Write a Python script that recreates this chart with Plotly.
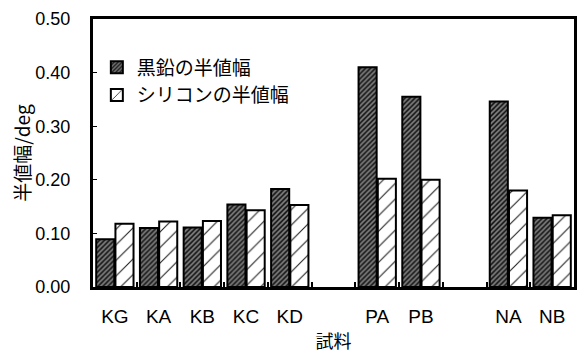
import plotly.graph_objects as go

# Samples and half-width values (deg)
samples = ["KG", "KA", "KB", "KC", "KD", "PA", "PB", "NA", "NB"]
graphite_fwhm = [0.089, 0.110, 0.111, 0.154, 0.183, 0.410, 0.355, 0.346, 0.129]
silicon_fwhm = [0.118, 0.122, 0.123, 0.143, 0.153, 0.202, 0.200, 0.180, 0.134]
series_names = ["黒鉛の半値幅", "シリコンの半値幅"]
y_ticks = [0.0, 0.1, 0.2, 0.3, 0.4, 0.5]

# blank slots separate the K, P and N sample groups
order = samples[:5] + [" "] + samples[5:7] + ["  "] + samples[7:]

FONT = "Liberation Sans, Arial, Noto Sans CJK JP"

fig = go.Figure()
fig.add_trace(go.Bar(
    x=samples, y=graphite_fwhm, name=series_names[0],
    marker=dict(
        color="#6a6a6a",
        line=dict(color="black", width=2),
        pattern=dict(shape="/", bgcolor="#7c7c7c", fgcolor="#111111",
                     size=3.5, solidity=0.45, fillmode="replace"),
    ),
))
fig.add_trace(go.Bar(
    x=samples, y=silicon_fwhm, name=series_names[1],
    marker=dict(
        color="white",
        line=dict(color="black", width=2),
        pattern=dict(shape="/", bgcolor="white", fgcolor="#222222",
                     size=11, solidity=0.1, fillmode="replace"),
    ),
))

fig.update_layout(
    width=578, height=354,
    margin=dict(l=93, r=1, t=19, b=67),
    paper_bgcolor="white", plot_bgcolor="white",
    barmode="group", bargap=0.12, bargroupgap=0.06,
    font=dict(family=FONT, size=18, color="black"),
    showlegend=True,
    legend=dict(
        x=0.008, y=0.89, xanchor="left", yanchor="top",
        bgcolor="rgba(0,0,0,0)", borderwidth=0,
        font=dict(family="Noto Sans CJK JP", size=19, color="black"),
        tracegroupgap=0, itemwidth=30,
    ),
)

fig.update_xaxes(
    type="category", categoryorder="array", categoryarray=order,
    range=[-0.5, len(order) - 0.5],
    showline=True, linecolor="black", linewidth=3, mirror=True,
    tickson="boundaries", ticks="inside", ticklen=5, tickwidth=2, tickcolor="black",
    tickfont=dict(family=FONT, size=19),
    ticklabelstandoff=10,
    showgrid=False,
    title=dict(text="試料", font=dict(family="Noto Sans CJK JP", size=18), standoff=4),
)

fig.update_yaxes(
    range=[0, 0.5], tickvals=y_ticks, tickformat=".2f",
    showline=True, linecolor="black", linewidth=3, mirror=True,
    ticks="inside", ticklen=4, tickwidth=1, tickcolor="black",
    tickfont=dict(family=FONT, size=18),
    ticklabelstandoff=16,
    showgrid=False, zeroline=False,
    title=dict(text="半値幅/deg", font=dict(family="Noto Sans CJK JP", size=19), standoff=0),
)

fig.write_html("out.html")
